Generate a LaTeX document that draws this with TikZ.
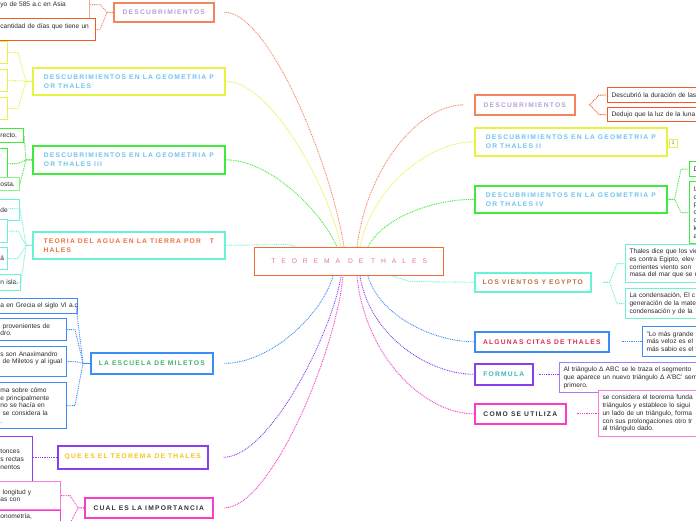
\documentclass[tikz,border=0pt]{standalone}
\usepackage{fontspec}
\setmainfont{Liberation Sans}
\newfontfamily\ttlfam[LetterSpace=18]{Liberation Sans}
\newfontfamily\ctrfam[LetterSpace=89]{Liberation Sans}
\usetikzlibrary{calc,shadows}
\definecolor{cCtr}{HTML}{F26A35}
\definecolor{cSal}{HTML}{F4845F}
\definecolor{cSalL}{HTML}{F7A58C}
\definecolor{cOrD}{HTML}{F25A24}
\definecolor{cYel}{HTML}{E6F341}
\definecolor{cGrn}{HTML}{3DEB3D}
\definecolor{cGrnL}{HTML}{86F286}
\definecolor{cAqu}{HTML}{6AF2D4}
\definecolor{cBlu}{HTML}{3A8DF2}
\definecolor{cPur}{HTML}{8B3DF0}
\definecolor{cPurL}{HTML}{A77BF3}
\definecolor{cMag}{HTML}{FA3CC8}
\definecolor{cMagL}{HTML}{FC7AD9}
\definecolor{tLav}{HTML}{B7A0D8}
\definecolor{tSky}{HTML}{6FC4EE}
\definecolor{tOra}{HTML}{F0703C}
\definecolor{tGrn}{HTML}{3DB36E}
\definecolor{tYel}{HTML}{F4C51A}
\definecolor{tDrk}{HTML}{333333}
\definecolor{tBrn}{HTML}{B8733E}
\definecolor{tRed}{HTML}{D9304A}
\definecolor{tTea}{HTML}{3DB8B8}
\definecolor{tPnk}{HTML}{E9739F}
\definecolor{tLeaf}{HTML}{2B2B2B}
\newcommand\mytitle{\ttlfam\bfseries\fontsize{6.7}{9}\selectfont}
\newcommand\myleaf{\fontsize{6.6}{7.8}\selectfont}
\newcommand\myctr{\ctrfam\fontsize{6.7}{8}\selectfont}
\newcommand\myln[1]{\mbox{#1}}
\begin{document}
\begin{tikzpicture}[x=1pt,y=-1pt,
  mainbox/.style={draw, fill=white, line width=1.6pt, anchor=north west, inner sep=0pt, align=left, font=\mytitle,
    drop shadow={shadow xshift=0.5pt, shadow yshift=-1.5pt, opacity=0.22}},
  leaf/.style={draw, fill=white, line width=1.1pt, inner xsep=4pt, inner ysep=0pt, align=left, font=\myleaf, text=tLeaf},
  leafL/.style={leaf, anchor=north east},
  leafR/.style={leaf, anchor=north west, text width=200pt},
  conn/.style={line width=0.9pt, dash pattern=on 0.9pt off 0.9pt}]
\useasboundingbox (0,0) rectangle (696,520);
\clip (0,0) rectangle (696,520);
\fill[white] (0,0) rectangle (696,520);

% central node
\node[draw=cCtr, line width=1.3pt, fill=white, anchor=north west, minimum width=189pt, minimum height=28pt,
  inner sep=0pt, text=tPnk, font=\myctr] (C) at (254,247) {TEOREMA DE THALES};

% left main nodes
\node[mainbox, draw=cSal, text=tLav, minimum width=100pt, minimum height=19pt] (L1) at (113,2) {DESCUBRIMIENTOS};
\node[mainbox, draw=cYel, text=tSky, minimum width=192pt, minimum height=27pt] (L2) at (32,67) {DESCUBRIMIENTOS EN LA GEOMETRIA P\\OR THALES};
\node[mainbox, draw=cGrn, text=tSky, minimum width=192pt, minimum height=28pt] (L3) at (32,145) {DESCUBRIMIENTOS EN LA GEOMETRIA P\\OR THALES III};
\node[mainbox, draw=cAqu, text=tOra, minimum width=192pt, minimum height=27pt] (L4) at (32,231) {TEORIA DEL AGUA EN LA TIERRA POR\hspace{9pt}T\\HALES};
\node[mainbox, draw=cBlu, text=tGrn, minimum width=122pt, minimum height=21pt] (L5) at (90,352) {LA ESCUELA DE MILETOS};
\node[mainbox, draw=cPur, text=tYel, minimum width=150pt, minimum height=23pt] (L6) at (57,445) {QUE ES EL TEOREMA DE THALES};
\node[mainbox, draw=cMag, text=tDrk, minimum width=128pt, minimum height=20pt] (L7) at (84,497) {CUAL ES LA IMPORTANCIA};

% right main nodes
\node[mainbox, draw=cSal, text=tLav, minimum width=100pt, minimum height=20pt] (R1) at (474,94) {DESCUBRIMIENTOS};
\node[mainbox, draw=cYel, text=tSky, minimum width=192pt, minimum height=28pt] (R2) at (474,127) {DESCUBRIMIENTOS EN LA GEOMETRIA P\\OR THALES II};
\node[mainbox, draw=cGrn, text=tSky, minimum width=192pt, minimum height=27pt] (R3) at (474,185) {DESCUBRIMIENTOS EN LA GEOMETRIA P\\OR THALES IV};
\node[mainbox, draw=cAqu, text=tBrn, minimum width=116pt, minimum height=19pt] (R4) at (474,272) {LOS VIENTOS Y EGYPTO};
\node[mainbox, draw=cBlu, text=tRed, minimum width=134pt, minimum height=20pt] (R5) at (474,331) {ALGUNAS CITAS DE THALES};
\node[mainbox, draw=cPur, text=tTea, minimum width=58pt, minimum height=21pt] (R6) at (474,363) {FORMULA};
\node[mainbox, draw=cMag, text=tDrk, minimum width=91pt, minimum height=20pt] (R7) at (474,403) {COMO SE UTILIZA};

\node[draw=cYel, line width=0.7pt, fill=white, minimum width=8pt, minimum height=8pt, inner sep=0pt,
  font=\fontsize{5}{5}\selectfont, text=gray] (badge) at (673,143) {3};

% left leaves
\node[leafL, draw=cSalL, text width=85pt, minimum height=32pt] (L1a) at (90,-12) {\myln{yo de 585 a.c en Asia}};
\node[leafL, draw=cOrD, text width=91pt, minimum height=22pt] (L1b) at (96,18) {\myln{cantidad de días que tiene un}\\\mbox{}};
\node[leafL, draw=cYel, text width=3pt, minimum height=22pt] (L2a) at (8,41) {};
\node[leafL, draw=cYel, text width=3pt, minimum height=22pt] (L2b) at (8,69) {};
\node[leafL, draw=cYel, text width=3pt, minimum height=22pt] (L2c) at (8,97) {};
\node[leafL, draw=cGrn, text width=19pt, minimum height=14pt] (L3a) at (24,128) {\myln{recto,}};
\node[leafL, draw=cGrn, text width=3pt, minimum height=30pt] (L3b) at (8,148) {};
\node[leafL, draw=cGrnL, text width=15pt, minimum height=13pt] (L3c) at (20,177) {\myln{osta.}};
\node[leafL, draw=cAqu, text width=15pt, minimum height=21pt] (L4a) at (20,199) {\myln{de}};
\node[leafL, draw=cAqu, text width=3pt, minimum height=23pt] (L4b) at (8,219) {};
\node[leafL, draw=cAqu, text width=3pt, minimum height=22pt] (L4c) at (8,247) {\myln{á}};
\node[leafL, draw=cAqu, text width=16pt, minimum height=16pt] (L4d) at (21,274) {\myln{n isla.}};
\node[leafL, draw=cBlu, text width=73pt, minimum height=15pt] (L5a) at (78,298) {\myln{a en Grecia el siglo VI a.c}};
\node[leafL, draw=cBlu, text width=62pt, minimum height=22pt] (L5b) at (67,318) {\myln{ provenientes de}\\\myln{dro.}};
\node[leafL, draw=cBlu, text width=62pt, minimum height=30pt] (L5c) at (67,346) {\myln{s son Anaximandro}\\\myln{ de Miletos y al igual}\\\mbox{}};
\node[leafL, draw=cBlu, text width=62pt, minimum height=46pt] (L5d) at (67,382) {\myln{ma sobre cómo}\\\myln{e principalmente}\\\myln{no se hacía en}\\\myln{ se considera la}\\\myln{.}};
\node[leafL, draw=cPur, text width=28pt, minimum height=46pt] (L6a) at (33,436) {\myln{tonces}\\\myln{s rectas}\\\myln{nentos}};
\node[leafL, draw=cMagL, text width=56pt, minimum height=28pt] (L7a) at (61,481) {\myln{ longitud y}\\\myln{as con}};
\node[leafL, draw=cMag, text width=56pt, minimum height=26pt] (L7b) at (61,510) {\myln{onometría,}\\\mbox{}\\\mbox{}};

% right leaves
\node[leafR, draw=cOrD, minimum height=15pt] (R1a) at (607,87) {Descubrió la duración de las};
\node[leafR, draw=cOrD, minimum height=14pt] (R1b) at (607,107) {Dedujo que la luz de la luna};
\node[leafR, draw=cGrn, minimum height=15pt] (R3a) at (689,161) {D};
\node[leafR, draw=cGrn, minimum height=62pt] (R3b) at (689,181) {U\\c\\p\\c\\c\\k\\a};
\node[leafR, draw=cAqu, minimum height=38pt] (R4a) at (625,244) {Thales dice que los vie\\es contra Egipto, elev\\corrientes viento son\\masa del mar que se r};
\node[leafR, draw=cAqu, minimum height=30pt] (R4b) at (625,288) {La condensación, El c\\generación de la mate\\condensación y de la};
\node[leafR, draw=cBlu, minimum height=30pt] (R5a) at (642,326) {"Lo más grande\\más veloz es el\\más sabio es el t};
\node[leafR, draw=cPurL, minimum height=30pt] (R6a) at (559,362) {Al triángulo Δ ABC se le traza el segmento\\que aparece un nuevo triángulo Δ A'BC' sem\\primero.};
\node[leafR, draw=cMagL, minimum height=46pt] (R7a) at (598,390) {se considera el teorema funda\\triángulos y establece lo sigui\\un lado de un triángulo, forma\\con sus prolongaciones otro tr\\al triángulo dado.};

% anchor coordinates on the central box
\coordinate (tL1) at ($(C.north west)+(90,0)$);
\coordinate (tL2) at ($(C.north west)+(87,0)$);
\coordinate (tL3) at ($(C.north west)+(83,0)$);
\coordinate (tL0) at ($(C.north west)+(42,0)$);
\coordinate (aL) at (289,244.5);
\coordinate (bL1) at ($(C.south west)+(79,0)$);
\coordinate (bL2) at ($(C.south west)+(89,0)$);
\coordinate (bL3) at ($(C.south west)+(87,0)$);
\coordinate (tR1) at ($(C.north west)+(103,0)$);
\coordinate (tR2) at ($(C.north west)+(106,0)$);
\coordinate (tR3) at ($(C.north west)+(114,0)$);
\coordinate (bR0) at ($(C.south west)+(139,0)$);
\coordinate (aR) at (410,281.5);
\coordinate (bR1) at ($(C.south west)+(114,0)$);
\coordinate (bR2) at ($(C.south west)+(106,0)$);
\coordinate (bR3) at ($(C.south west)+(103,0)$);

% centre connectors, left
\draw[conn, cSal] ($(L1.east)+(10,0)$) .. controls +(45,0) and +(-12,-80) .. (tL1);
\draw[conn, cYel] (L2.east) .. controls +(45,0) and +(-12,-60) .. (tL2);
\draw[conn, cGrn] (L3.east) .. controls +(45,0) and +(-15,-35) .. (tL3);
\draw[conn, cAqu] (L4.east) -- (aL) -- (tL0);
\draw[conn, cBlu] ($(L5.east)+(11,0)$) .. controls +(45,0) and +(-12,40) .. (bL1);
\draw[conn, cPur] ($(L6.east)+(15,0)$) .. controls +(45,0) and +(-10,60) .. (bL3);
\draw[conn, cMag] ($(L7.east)+(11,0)$) .. controls +(45,0) and +(-8,80) .. (bL2);
% centre connectors, right
\draw[conn, cSal] (tR1) .. controls +(10,-80) and +(-45,0) .. ($(R1.west)+(-10,0)$);
\draw[conn, cYel] (tR2) .. controls +(12,-60) and +(-45,0) .. (R2.west);
\draw[conn, cGrn] (tR3) .. controls +(15,-30) and +(-40,0) .. (R3.west);
\draw[conn, cAqu] (bR0) -- (aR) -- (R4.west);
\draw[conn, cBlu] (bR1) .. controls +(12,40) and +(-40,0) .. (R5.west);
\draw[conn, cPur] (bR2) .. controls +(10,60) and +(-45,0) .. (R6.west);
\draw[conn, cMag] (bR3) .. controls +(8,80) and +(-50,0) .. (R7.west);

% left child connectors
\draw[conn, cSal] (L1.west) -- ++(-6,0) -- ($(L1a.east)+(10,0)$) -- (L1a.east);
\draw[conn, cSal] (L1.west) -- ++(-6,0) -- ($(L1b.east)+(4,0)$) -- (L1b.east);
\foreach \c in {L2a,L2b,L2c}{\draw[conn, cYel] (L2.west) -- ++(-6,0) -- ($(\c.east)+(10,0)$) -- (\c.east);}
\draw[conn, cGrn] (L3.west) -- ++(-6,0) -- (L3a.east);
\draw[conn, cGrn] (L3.west) -- ++(-6,0) -- ($(L3b.east)+(10,0)$) -- (L3b.east);
\draw[conn, cGrn] (L3.west) -- ++(-6,0) -- (L3c.east);
\draw[conn, cAqu] (L4.west) -- ++(-6,0) -- ($(L4a.east)+(0,-1.5)$) -- ($(L4a.east)+(-12,-1.5)$);
\draw[conn, cAqu] (L4.west) -- ++(-6,0) -- ($(L4b.east)+(10,0)$) -- (L4b.east);
\draw[conn, cAqu] (L4.west) -- ++(-6,0) -- ($(L4c.east)+(10,0)$) -- (L4c.east);
\draw[conn, cAqu] (L4.west) -- ++(-6,0) -- (L4d.east) -- ($(L4d.east)+(-6,0)$);
\draw[cBlu, line width=0.9pt] (L5.west) -- ++(-7,0) coordinate (m5);
\draw[conn, cBlu] (m5) -- ($(L5a.east)+(-2,0)$);
\foreach \c in {L5b,L5c,L5d}{\draw[conn, cBlu] (m5) -- ($(\c.east)+(8,0)$) -- (\c.east);}
\draw[conn, cPur] (L6.west) -- (L6.west -| L6a.east);
\draw[conn, cMag] (L7.west) -- ++(-6,0) -- ($(L7a.east)+(9,0)$) -- (L7a.east);
\draw[conn, cMag] (L7.west) -- ++(-6,0) -- ($(L7b.east)+(9,0)$) -- (L7b.east);

% right child connectors
\draw[conn, cOrD] ($(R1.east)+(14,0)$) -- ($(R1a.west)+(-8,0)$) -- (R1a.west);
\draw[conn, cOrD] ($(R1.east)+(14,0)$) -- ($(R1b.west)+(-8,0)$) -- (R1b.west);
\draw[conn, cGrn] ($(R3.east)+(1,0)$) -- ++(6,0) -- ($(R3a.west)+(-8,0)$) -- (R3a.west);
\draw[conn, cGrn] ($(R3.east)+(1,0)$) -- ++(6,0) -- ($(R3b.west)+(-8,0)$) -- (R3b.west);
\draw[conn, cAqu] ($(R4.east)+(12,0)$) -- ++(6,0) -- ($(R4a.west)+(-8,0)$) -- (R4a.west);
\draw[conn, cAqu] ($(R4.east)+(12,0)$) -- ++(6,0) -- ($(R4b.west)+(-8,0)$) -- (R4b.west);
\draw[conn, cBlu] ($(R5.east)+(12,0)$) -- (R5a.west |- R5.east);
\draw[conn, cPur] ($(R6.east)+(5,0)$) -- (R6a.west |- R6.east);
\draw[conn, cMag] ($(R7.east)+(10,0)$) -- (R7a.west |- R7.east);
\end{tikzpicture}
\end{document}
